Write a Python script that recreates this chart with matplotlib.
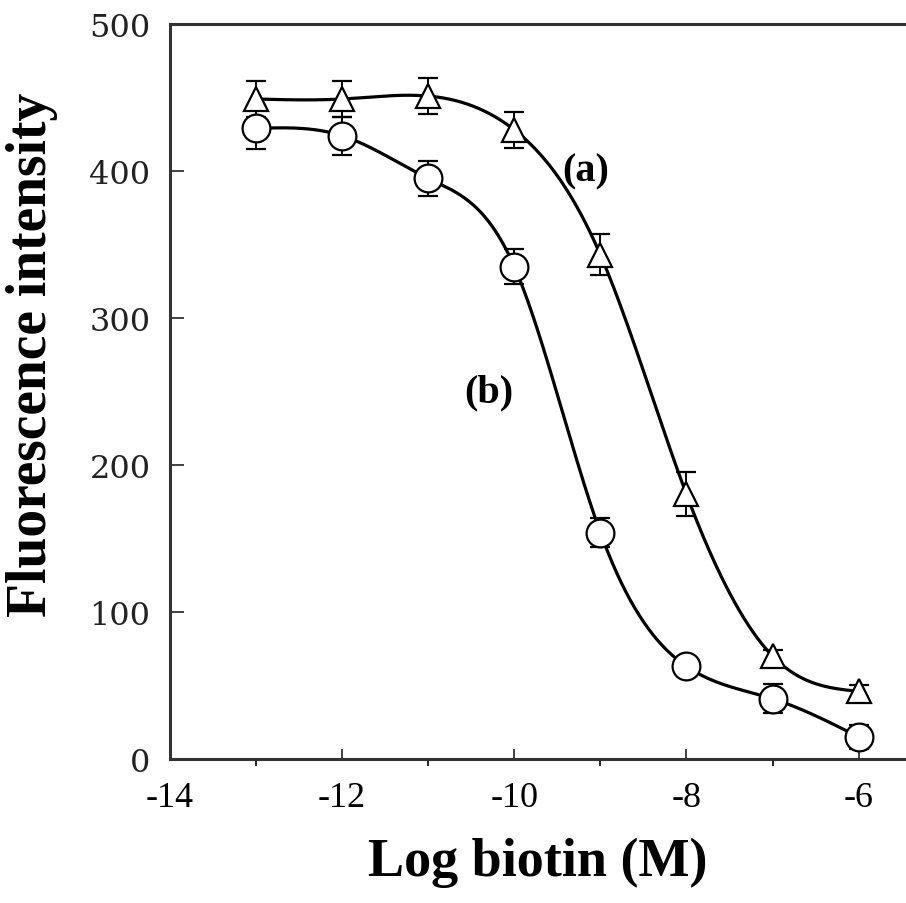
import numpy as np
import matplotlib
matplotlib.use('Agg')
import matplotlib.pyplot as plt

# log biotin concentration (M)
logc = [-13, -12, -11, -10, -9, -8, -7, -6]

# (a) triangles
fa = [449, 449, 451, 428, 343, 180, 70, 46]
ea = [12, 12, 12, 12, 14, 15, 4, 4]

# (b) circles
fb = [429, 424, 395, 335, 154, 63, 41, 15]
eb = [14, 13, 12, 12, 10, 4, 10, 8]


def smooth(x, y, n=400):
    # natural cubic spline through the points
    x = np.asarray(x, float)
    y = np.asarray(y, float)
    k = len(x)
    h = np.diff(x)
    A = np.zeros((k, k))
    r = np.zeros(k)
    A[0, 0] = A[-1, -1] = 1
    for i in range(1, k - 1):
        A[i, i - 1] = h[i - 1]
        A[i, i] = 2 * (h[i - 1] + h[i])
        A[i, i + 1] = h[i]
        r[i] = 6 * ((y[i + 1] - y[i]) / h[i] - (y[i] - y[i - 1]) / h[i - 1])
    M = np.linalg.solve(A, r)
    xs = np.linspace(x[0], x[-1], n)
    j = np.clip(np.searchsorted(x, xs) - 1, 0, k - 2)
    t0 = x[j + 1] - xs
    t1 = xs - x[j]
    hj = h[j]
    ys = (M[j] * t0**3 + M[j + 1] * t1**3) / (6 * hj) \
        + (y[j] / hj - M[j] * hj / 6) * t0 + (y[j + 1] / hj - M[j + 1] * hj / 6) * t1
    return xs, ys


plt.rcParams['font.family'] = ['Liberation Serif', 'DejaVu Serif']
plt.rcParams['axes.unicode_minus'] = False

fig = plt.figure(figsize=(9.06, 9.04), dpi=100)
ax = fig.add_axes([0.1876, 0.1593, 0.8124, 0.813])

xs, ys = smooth(logc, fa)
ax.plot(xs, ys, color='black', lw=2.3, zorder=2)
xs, ys = smooth(logc, fb)
ax.plot(xs, ys, color='black', lw=2.3, zorder=2)

ax.errorbar(logc, fa, yerr=ea, fmt='^', ms=17, mfc='white', mec='black', mew=1.6,
            ecolor='black', elinewidth=1.4, capsize=7, capthick=1.4, zorder=3)
ax.errorbar(logc, fb, yerr=eb, fmt='o', ms=20, mfc='white', mec='black', mew=1.6,
            ecolor='black', elinewidth=1.4, capsize=7, capthick=1.4, zorder=3)

ax.text(-9.17, 400, '(a)', fontsize=29, fontweight='bold', ha='center', va='center')
ax.text(-10.3, 250, '(b)', fontsize=29, fontweight='bold', ha='center', va='center')

ax.set_xlim(-14, -5.45)
ax.set_ylim(0, 500)
ax.set_xticks([-14, -12, -10, -8, -6])
ax.set_xticks([-13, -11, -9, -7], minor=True)
ax.set_yticks([0, 100, 200, 300, 400, 500])
ax.tick_params(axis='both', direction='in', width=1.3, color='#333333')
ax.tick_params(axis='x', which='major', length=7, labelsize=26, pad=16)
ax.tick_params(axis='x', which='minor', length=5, width=1.2)
ax.tick_params(axis='y', which='major', length=10, labelsize=23, pad=14)
for lab in ax.get_yticklabels():
    lab.set_family(['DejaVu Serif'])
    lab.set_color('#222222')
ax.spines['right'].set_visible(False)
for s in ['left', 'bottom', 'top']:
    ax.spines[s].set_linewidth(2.2)
    ax.spines[s].set_color('#333333')

ax.set_xlabel('Log biotin (M)', fontsize=39, fontweight='bold', labelpad=16)
ax.set_ylabel('Fluorescence intensity', fontsize=40, fontweight='bold')
ax.yaxis.set_label_coords(-0.152, 0.551)

fig.savefig('out.png', dpi=100)
